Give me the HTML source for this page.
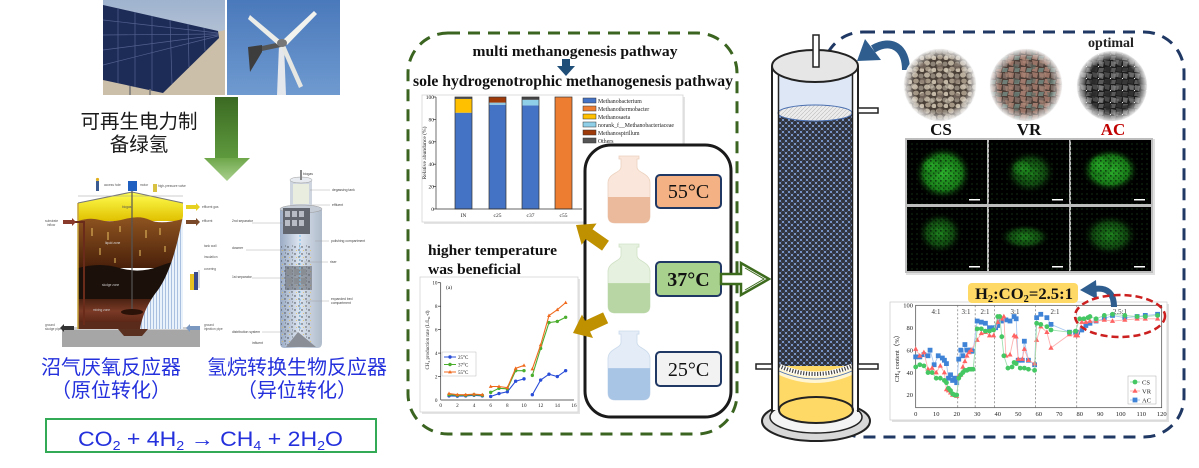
<!DOCTYPE html>
<html><head><meta charset="utf-8">
<style>
html,body{margin:0;padding:0;background:#fff;width:1199px;height:468px;overflow:hidden}
svg{display:block}
.s{font-family:"Liberation Serif",serif}
.sb{font-family:"Liberation Serif",serif;font-weight:bold}
.sa{font-family:"Liberation Sans",sans-serif}
.cn{font-family:"Liberation Sans","Noto Sans CJK SC",sans-serif}
</style></head><body>
<svg width="1199" height="468" viewBox="0 0 1199 468" xmlns="http://www.w3.org/2000/svg">
<defs>
<linearGradient id="skyA" x1="0" y1="0" x2="0" y2="1"><stop offset="0" stop-color="#9fb3cf"/><stop offset="1" stop-color="#d4d8dc"/></linearGradient>
<linearGradient id="skyB" x1="0" y1="0" x2="0" y2="1"><stop offset="0" stop-color="#4a79bb"/><stop offset="1" stop-color="#6f9ad0"/></linearGradient>
<linearGradient id="shaft" x1="0" y1="0" x2="0" y2="1"><stop offset="0" stop-color="#3b6a22"/><stop offset="1" stop-color="#5f9a3e"/></linearGradient>
<linearGradient id="ahead" x1="0" y1="0" x2="0" y2="1"><stop offset="0" stop-color="#6ea64a"/><stop offset="1" stop-color="#a9d18e"/></linearGradient>
<linearGradient id="gas" x1="0" y1="0" x2="0" y2="1"><stop offset="0" stop-color="#ffff50"/><stop offset="1" stop-color="#e0c000"/></linearGradient>
<linearGradient id="liq" x1="0" y1="0" x2="0" y2="1"><stop offset="0" stop-color="#8e5420"/><stop offset="1" stop-color="#4a200a"/></linearGradient>
<linearGradient id="mix" x1="0" y1="0" x2="0" y2="1"><stop offset="0" stop-color="#4a2212"/><stop offset="0.5" stop-color="#7a3a26"/><stop offset="1" stop-color="#5a2616"/></linearGradient>
<pattern id="stripe" width="3" height="4" patternUnits="userSpaceOnUse"><rect width="3" height="4" fill="#e9f1fb"/><rect width="1" height="4" fill="#a9c0e0"/></pattern>
<linearGradient id="col" x1="0" y1="0" x2="1" y2="0"><stop offset="0" stop-color="#9aabc4"/><stop offset="0.45" stop-color="#dbe3ef"/><stop offset="1" stop-color="#b0bccb"/></linearGradient>
<pattern id="dots" width="7" height="7" patternUnits="userSpaceOnUse"><circle cx="1" cy="2" r="0.7" fill="#222"/><circle cx="5" cy="5" r="0.7" fill="#333"/><circle cx="5.5" cy="1" r="0.5" fill="#444"/><circle cx="2.5" cy="5.5" r="0.5" fill="#e8c040"/></pattern>
<pattern id="bed" width="6" height="6" patternUnits="userSpaceOnUse"><rect width="6" height="6" fill="#7d9ad0"/><circle cx="0" cy="0" r="2.1" fill="#30343e"/><circle cx="6" cy="0" r="2.1" fill="#30343e"/><circle cx="0" cy="6" r="2.1" fill="#30343e"/><circle cx="6" cy="6" r="2.1" fill="#30343e"/><circle cx="3" cy="3" r="2.1" fill="#30343e"/></pattern>
<pattern id="hatch" width="4" height="4" patternUnits="userSpaceOnUse"><rect width="4" height="4" fill="#ececec"/><path d="M0,4 L4,0" stroke="#bbb" stroke-width="0.6"/></pattern>
<pattern id="pcs" width="12" height="12" patternUnits="userSpaceOnUse"><rect width="12" height="12" fill="#4a4038"/><ellipse cx="3" cy="3" rx="3" ry="2.6" fill="#b9ad9c"/><ellipse cx="9" cy="4" rx="2.6" ry="2.4" fill="#8e8477"/><ellipse cx="4" cy="9" rx="2.8" ry="2.4" fill="#a39684"/><ellipse cx="10" cy="10" rx="2.5" ry="2.2" fill="#c4b8a6"/></pattern>
<pattern id="pcs2" width="17" height="15" patternUnits="userSpaceOnUse"><ellipse cx="5" cy="6" rx="3.5" ry="3" fill="#7d7064" opacity="0.7"/><ellipse cx="13" cy="11" rx="3" ry="2.6" fill="#d0c6b6" opacity="0.6"/></pattern>
<pattern id="pvr" width="12" height="12" patternUnits="userSpaceOnUse"><rect width="12" height="12" fill="#4e3e38"/><polygon points="0,0 6,1 5,6 1,5" fill="#9a7466"/><polygon points="7,1 12,2 11,7 7,6" fill="#7c6a62"/><polygon points="1,7 6,7 5,12 0,11" fill="#a07a6c"/><polygon points="7,8 12,8 11,12 6,12" fill="#6f7e76"/></pattern>
<pattern id="pvr2" width="17" height="14" patternUnits="userSpaceOnUse"><polygon points="2,2 9,3 8,8 3,7" fill="#b08a7a" opacity="0.6"/><polygon points="10,8 16,9 15,13 11,13" fill="#5e6e68" opacity="0.6"/></pattern>
<pattern id="pac" width="12" height="12" patternUnits="userSpaceOnUse"><rect width="12" height="12" fill="#1c1c1c"/><polygon points="0,0 6,1 5,6 1,5" fill="#4a4a4a"/><polygon points="7,1 12,2 11,7 7,6" fill="#6a6a6a"/><polygon points="1,7 6,7 5,12 0,11" fill="#333"/><polygon points="7,8 12,8 11,12 6,12" fill="#5a5a5a"/><circle cx="6.5" cy="6.5" r="0.6" fill="#eee"/></pattern>
<pattern id="pac2" width="16" height="13" patternUnits="userSpaceOnUse"><polygon points="1,2 8,1 7,7 2,6" fill="#2a2a2a" opacity="0.7"/><polygon points="9,7 15,8 14,12 10,12" fill="#8a8a8a" opacity="0.5"/></pattern>
<radialGradient id="fade" cx="0.5" cy="0.5" r="0.5"><stop offset="0.72" stop-color="#fff" stop-opacity="0"/><stop offset="0.88" stop-color="#e8e8e8" stop-opacity="0.6"/><stop offset="1" stop-color="#fff" stop-opacity="1"/></radialGradient>
<radialGradient id="gB" cx="0.5" cy="0.5" r="0.5"><stop offset="0" stop-color="#2cb02c"/><stop offset="0.65" stop-color="#1a8a1a" stop-opacity="0.85"/><stop offset="1" stop-color="#000" stop-opacity="0"/></radialGradient>
<radialGradient id="gD" cx="0.5" cy="0.5" r="0.5"><stop offset="0" stop-color="#1c7e1c"/><stop offset="0.6" stop-color="#125212" stop-opacity="0.8"/><stop offset="1" stop-color="#000" stop-opacity="0"/></radialGradient>
<pattern id="speck" width="5" height="5" patternUnits="userSpaceOnUse"><rect x="0" y="0" width="1.6" height="1.6" fill="#000" opacity="0.55"/><rect x="3" y="2.5" width="1.4" height="1.4" fill="#000" opacity="0.45"/><rect x="1.5" y="3.5" width="1" height="1" fill="#6f6" opacity="0.35"/></pattern>

<marker id="mcs" markerUnits="userSpaceOnUse" markerWidth="10" markerHeight="10" refX="0" refY="0" overflow="visible"><g transform="scale(0.4878,-0.892)"><circle r="2.4" fill="#45c763"/></g></marker>
<marker id="mvr" markerUnits="userSpaceOnUse" markerWidth="10" markerHeight="10" refX="0" refY="0" overflow="visible"><g transform="scale(0.4878,-0.892)"><polygon points="0,-2.8 2.6,1.8 -2.6,1.8" fill="#ff6363"/></g></marker>
<marker id="mac" markerUnits="userSpaceOnUse" markerWidth="10" markerHeight="10" refX="0" refY="0" overflow="visible"><g transform="scale(0.4878,-0.892)"><rect x="-2.4" y="-2.4" width="4.8" height="4.8" fill="#3f83d6"/></g></marker>

<marker id="m25" markerUnits="userSpaceOnUse" markerWidth="10" markerHeight="10" refX="0" refY="0" overflow="visible"><g transform="scale(0.12005,-0.08525)"><circle r="1.7" fill="#2a4dd8"/></g></marker>
<marker id="m37" markerUnits="userSpaceOnUse" markerWidth="10" markerHeight="10" refX="0" refY="0" overflow="visible"><g transform="scale(0.12005,-0.08525)"><circle r="1.7" fill="#4cae2e"/></g></marker>
<marker id="m55" markerUnits="userSpaceOnUse" markerWidth="10" markerHeight="10" refX="0" refY="0" overflow="visible"><g transform="scale(0.12005,-0.08525)"><polygon points="0,-2 1.9,1.4 -1.9,1.4" fill="#f06a1e"/></g></marker>
</defs>

<rect width="1199" height="468" fill="#fff"/>

<!-- ============ LEFT COLUMN ============ -->
<rect x="103" y="0" width="122" height="95" fill="url(#skyA)"/>
<polygon points="103,62 225,30 225,95 103,95" fill="#cbbfa9"/>
<polygon points="103,5 218,31 219,38 163,93 103,80" fill="#1d2b57"/>
<g stroke="#52618f" stroke-width="0.7" fill="none">
<line x1="103" y1="20" x2="218" y2="33"/><line x1="103" y1="35" x2="218" y2="34"/><line x1="103" y1="50" x2="218" y2="35"/><line x1="103" y1="65" x2="218" y2="36"/>
<line x1="118" y1="8" x2="118" y2="83"/><line x1="135" y1="12" x2="135" y2="87"/><line x1="152" y1="16" x2="152" y2="90"/><line x1="170" y1="20" x2="172" y2="84"/><line x1="188" y1="24" x2="189" y2="67"/><line x1="204" y1="28" x2="205" y2="51"/>
</g>
<line x1="130" y1="86" x2="130" y2="95" stroke="#777" stroke-width="1.5"/>
<line x1="150" y1="89" x2="150" y2="95" stroke="#777" stroke-width="1.5"/>
<rect x="227" y="0" width="113" height="95" fill="url(#skyB)"/>
<polygon points="279,45 284,45 286,95 277,95" fill="#e4e7ec"/>
<polygon points="262,46 281,42 281,47 262,51" fill="#555"/>
<polygon points="248,47 262,45 262,52 250,72" fill="#3d3d3d"/>
<polygon points="283,40 314,11 317,14 287,45" fill="#f2f2ee"/>
<polygon points="281,41 250,15 248,19 279,46" fill="#ecece8"/>
<polygon points="284,43 303,86 299,88 280,45" fill="#e6e6e2"/>
<ellipse cx="282" cy="43" rx="5" ry="4" fill="#777"/>
<rect x="215" y="97" width="23" height="62" fill="url(#shaft)"/>
<polygon points="204,158 250,158 227,181" fill="url(#ahead)"/>
<text class="cn" x="139" y="128" font-size="19.5" fill="#1a1a1a" text-anchor="middle">可再生电力制</text>
<text class="cn" x="139" y="151" font-size="19.5" fill="#1a1a1a" text-anchor="middle">备绿氢</text>

<!-- left reactor -->
<rect x="62" y="329" width="138" height="18" fill="#a6a6a6"/>
<rect x="62" y="327" width="138" height="3" fill="#cfcfcf"/>
<path d="M118,329 L124,336 H142 L148,329 Z" fill="#5a3020"/>
<polygon points="78,203 132,192 183,203 183,221 78,221" fill="url(#gas)"/>
<path d="M78,221 Q90,217 100,220 T125,219 T150,220 T183,219 V268 H78 Z" fill="url(#liq)"/>
<path d="M78,268 Q100,262 120,268 T160,266 T183,265 V300 H78 Z" fill="#1c100a"/>
<rect x="78" y="299" width="105" height="24" fill="url(#mix)"/>
<rect x="78" y="322" width="105" height="7" fill="#5a2a1a"/>
<g stroke="#e8c060" stroke-width="1">
<line x1="92" y1="228" x2="92" y2="236"/><line x1="108" y1="232" x2="108" y2="240"/><line x1="120" y1="226" x2="120" y2="232"/><line x1="146" y1="230" x2="146" y2="238"/><line x1="160" y1="228" x2="160" y2="235"/><line x1="100" y1="248" x2="100" y2="255"/><line x1="140" y1="250" x2="140" y2="256"/><line x1="165" y1="246" x2="165" y2="252"/><line x1="115" y1="258" x2="115" y2="263"/>
</g>
<path d="M183,216 C178,240 172,270 158,290 C146,305 142,318 140,329 L183,329 Z" fill="url(#stripe)"/>
<line x1="78" y1="203" x2="78" y2="329" stroke="#c9a23a" stroke-width="1.5"/>
<polyline points="78,203 132,192 183,203" fill="none" stroke="#777" stroke-width="1"/>
<line x1="78" y1="196" x2="183" y2="196" stroke="#999" stroke-width="0.6"/>
<line x1="132" y1="190" x2="132" y2="312" stroke="#555" stroke-width="1.2"/>
<ellipse cx="132" cy="312" rx="11" ry="3" fill="#2a1208"/>
<rect x="128" y="181" width="9" height="10" fill="#1f5fbf"/>
<rect x="96" y="181" width="3" height="10" fill="#3a5a90"/><circle cx="97.5" cy="179.5" r="1.6" fill="#e0b020"/>
<rect x="153" y="184" width="4" height="8" fill="#d8c040"/>
<polyline points="73,222 84,222 84,325" fill="none" stroke="#6b2b1b" stroke-width="2"/>
<polygon points="63,220 72,220 72,218 76,222 72,226 72,224 63,224" fill="#8a3a2a"/>
<polygon points="186,205 196,205 196,203 200,207 196,211 196,209 186,209" fill="#e6d020"/>
<polygon points="186,220 196,220 196,218 200,222 196,226 196,224 186,224" fill="#7a4a2a"/>
<polygon points="74,326 64,326 64,324 60,328 64,332 64,330 74,330" fill="#333"/>
<polygon points="200,326 190,326 190,324 186,328 190,332 190,330 200,330" fill="#7a98c0"/>
<rect x="190" y="274" width="4" height="16" fill="#e8c020"/><rect x="194" y="272" width="4" height="18" fill="#3a4a8a"/><rect x="198" y="270" width="2" height="18" fill="#ddd"/>
<g class="sa" font-size="3.2" fill="#555">
<text x="104" y="186">access hole</text><text x="140" y="186">motor</text><text x="158" y="187">high-pressure valve</text>
<text x="122" y="208">biogas</text><text x="202" y="208">effluent gas</text>
<text x="45" y="222">substrate</text><text x="47" y="226">inflow</text><text x="202" y="222">effluent</text>
<text x="105" y="244" fill="#ddd">liquid zone</text><text x="102" y="286" fill="#ccc">sludge zone</text><text x="93" y="311" fill="#ccc">mixing zone</text>
<text x="204" y="247">tank wall</text><text x="204" y="258">insulation</text><text x="204" y="270">covering</text>
<text x="45" y="326">ground</text><text x="45" y="330">sludge pipe</text><text x="204" y="326">ground</text><text x="204" y="330">injection pipe</text>
</g>

<!-- right reactor -->
<rect x="290" y="180" width="22" height="28" fill="#cfd5de"/>
<rect x="293" y="184" width="16" height="20" fill="#eef2e0" opacity="0.8"/>
<ellipse cx="301" cy="180" rx="11" ry="3" fill="#e8ecf0" stroke="#999" stroke-width="0.5"/>
<line x1="301" y1="170" x2="301" y2="180" stroke="#888" stroke-width="2"/>
<path d="M280,210 H322 V343 Q322,348 317,348 H285 Q280,348 280,343 Z" fill="url(#col)"/>
<ellipse cx="301" cy="209" rx="21" ry="4" fill="#c5ccd6" stroke="#999" stroke-width="0.5"/>
<rect x="281" y="245" width="30" height="100" fill="url(#dots)" opacity="0.85"/>
<rect x="283" y="208" width="27" height="26" fill="#62666e"/>
<g fill="#b8bcc4"><rect x="285" y="211" width="5" height="6"/><rect x="292" y="211" width="5" height="6"/><rect x="299" y="211" width="5" height="6"/><rect x="285" y="220" width="5" height="6"/><rect x="292" y="220" width="5" height="6"/><rect x="299" y="220" width="5" height="6"/>
<rect x="287" y="269" width="5" height="6"/><rect x="294" y="269" width="5" height="6"/><rect x="301" y="269" width="5" height="6"/><rect x="287" y="278" width="5" height="6"/><rect x="294" y="278" width="5" height="6"/><rect x="301" y="278" width="5" height="6"/></g>
<rect x="285" y="266" width="27" height="24" fill="#62666e" opacity="0.55"/>
<line x1="300" y1="235" x2="300" y2="330" stroke="#6ec0f0" stroke-width="1" stroke-dasharray="2 2"/>
<path d="M298,332 L286,347 H316 Z" fill="#8a8e96"/>
<g stroke="#999" stroke-width="0.4">
<line x1="252" y1="223" x2="284" y2="223"/><line x1="246" y1="250" x2="290" y2="250"/><line x1="252" y1="278" x2="286" y2="278"/><line x1="262" y1="332" x2="297" y2="332"/>
<line x1="310" y1="190" x2="330" y2="190"/><line x1="312" y1="205" x2="330" y2="205"/><line x1="315" y1="241" x2="329" y2="241"/><line x1="304" y1="262" x2="328" y2="262"/><line x1="306" y1="301" x2="329" y2="301"/>
</g>
<g class="sa" font-size="3.4" fill="#444">
<text x="303" y="175">biogas</text><text x="332" y="191">degassing tank</text><text x="332" y="206">effluent</text>
<text x="232" y="222">2nd separator</text><text x="232" y="249">downer</text><text x="232" y="278">1st separator</text>
<text x="331" y="242">polishing compartment</text><text x="330" y="263">riser</text><text x="331" y="300">expanded bed</text><text x="331" y="304">compartment</text>
<text x="232" y="333">distribution system</text><text x="252" y="344">influent</text>
</g>

<text class="cn" x="111" y="374" font-size="20" fill="#2430dc" text-anchor="middle">沼气厌氧反应器</text>
<text class="cn" x="111" y="397" font-size="20" fill="#2430dc" text-anchor="middle">（原位转化）</text>
<text class="cn" x="297" y="374" font-size="20" fill="#2430dc" text-anchor="middle">氢烷转换生物反应器</text>
<text class="cn" x="297" y="397" font-size="20" fill="#2430dc" text-anchor="middle">（异位转化）</text>

<rect x="46" y="419" width="330" height="33" fill="#fff" stroke="#33aa55" stroke-width="2"/>
<text class="sa" x="78" y="446" font-size="21" fill="#2430dc" textLength="265" lengthAdjust="spacingAndGlyphs">CO<tspan font-size="13" dy="4">2</tspan><tspan dy="-4"> + 4H</tspan><tspan font-size="13" dy="4">2</tspan><tspan dy="-4"> → CH</tspan><tspan font-size="13" dy="4">4</tspan><tspan dy="-4"> + 2H</tspan><tspan font-size="13" dy="4">2</tspan><tspan dy="-4">O</tspan></text>

<!-- ============ MIDDLE ============ -->
<rect x="408" y="33" width="329" height="401" rx="40" fill="none" stroke="#3a6420" stroke-width="3" stroke-dasharray="12 8"/>
<text class="sb" x="575" y="56" font-size="15" text-anchor="middle" textLength="205" lengthAdjust="spacingAndGlyphs" fill="#111">multi methanogenesis pathway</text>
<polygon points="562,59 570,59 570,66 575,66 566,76 557,66 562,66" fill="#1f4e79"/>
<text class="sb" x="573" y="86" font-size="16" text-anchor="middle" textLength="320" lengthAdjust="spacingAndGlyphs" fill="#111">sole hydrogenotrophic methanogenesis pathway</text>

<rect x="424" y="97" width="261" height="127" fill="#e4e4e4"/>
<rect x="422" y="95" width="261" height="127" fill="#fff" stroke="#d4d4d4" stroke-width="0.8"/>
<rect x="455" y="112.7" width="17" height="96.3" fill="#4472c4"/>
<rect x="455" y="99" width="17" height="13.7" fill="#ffc000"/>
<rect x="455" y="97" width="17" height="2" fill="#555"/>
<rect x="489" y="104.8" width="17" height="104.2" fill="#4472c4"/>
<rect x="489" y="102.6" width="17" height="2.2" fill="#8fc7e0"/>
<rect x="489" y="97" width="17" height="5.6" fill="#9e3a0a"/>
<rect x="522" y="105.4" width="17" height="103.6" fill="#4472c4"/>
<rect x="522" y="99.8" width="17" height="5.6" fill="#8fd0e8"/>
<rect x="522" y="97" width="17" height="2.8" fill="#444"/>
<rect x="555" y="97" width="17" height="112" fill="#ed7d31"/>
<g stroke="#333" stroke-width="0.7" fill="none">
<rect x="455" y="97" width="17" height="112"/><rect x="489" y="97" width="17" height="112"/><rect x="522" y="97" width="17" height="112"/><rect x="555" y="97" width="17" height="112"/>
<line x1="436" y1="97" x2="436" y2="209"/><line x1="436" y1="209" x2="582" y2="209"/>
<line x1="433" y1="97" x2="436" y2="97"/><line x1="433" y1="119.4" x2="436" y2="119.4"/><line x1="433" y1="141.8" x2="436" y2="141.8"/><line x1="433" y1="164.2" x2="436" y2="164.2"/><line x1="433" y1="186.6" x2="436" y2="186.6"/><line x1="433" y1="209" x2="436" y2="209"/>
</g>
<g class="s" font-size="5.5" fill="#222" text-anchor="end">
<text x="434" y="99">100</text><text x="434" y="121.4">80</text><text x="434" y="143.8">60</text><text x="434" y="166.2">40</text><text x="434" y="188.6">20</text><text x="434" y="211">0</text>
</g>
<g class="s" font-size="5.5" fill="#222" text-anchor="middle">
<text x="463.5" y="217">IN</text><text x="497.5" y="217">c25</text><text x="530.5" y="217">c37</text><text x="563.5" y="217">c55</text>
</g>
<text class="s" font-size="5.5" fill="#222" text-anchor="middle" transform="translate(426,153) rotate(-90)">Relative abundance (%)</text>
<g stroke="#333" stroke-width="0.5">
<rect x="583" y="98" width="13" height="5" fill="#4472c4"/>
<rect x="583" y="106" width="13" height="5" fill="#ed7d31"/>
<rect x="583" y="114" width="13" height="5" fill="#ffc000"/>
<rect x="583" y="122" width="13" height="5" fill="#8fd0e8"/>
<rect x="583" y="130" width="13" height="5" fill="#9e3a0a"/>
<rect x="583" y="138" width="13" height="5" fill="#555"/>
</g>
<g class="s" font-size="5.8" fill="#222">
<text x="598" y="103">Methanobacterium</text><text x="598" y="111">Methanothermobacter</text><text x="598" y="119">Methanosaeta</text><text x="598" y="127">norank_f__Methanobacteriaceae</text><text x="598" y="135">Methanospirillum</text><text x="598" y="143">Others</text>
</g>

<text class="sb" x="428" y="255" font-size="15" fill="#111" textLength="129" lengthAdjust="spacingAndGlyphs">higher temperature</text>
<text class="sb" x="428" y="274" font-size="15" fill="#111" textLength="93" lengthAdjust="spacingAndGlyphs">was beneficial</text>

<rect x="422" y="279" width="158" height="135" fill="#e4e4e4"/>
<rect x="420" y="277" width="158" height="135" fill="#fff" stroke="#d4d4d4" stroke-width="0.8"/>
<g stroke="#333" stroke-width="0.7">
<line x1="440.7" y1="282.7" x2="440.7" y2="400"/><line x1="440.7" y1="400" x2="574" y2="400"/>
<line x1="438" y1="282.7" x2="440.7" y2="282.7"/><line x1="438" y1="306.2" x2="440.7" y2="306.2"/><line x1="438" y1="329.6" x2="440.7" y2="329.6"/><line x1="438" y1="353.1" x2="440.7" y2="353.1"/><line x1="438" y1="376.5" x2="440.7" y2="376.5"/>
</g>
<g class="s" font-size="5.2" fill="#222" text-anchor="end">
<text x="437.5" y="284.5">10</text><text x="437.5" y="308">8</text><text x="437.5" y="331.4">6</text><text x="437.5" y="354.9">4</text><text x="437.5" y="378.3">2</text><text x="437.5" y="401.8">0</text>
</g>
<g class="s" font-size="5.2" fill="#222" text-anchor="middle">
<text x="440.7" y="407">0</text><text x="457.4" y="407">2</text><text x="474" y="407">4</text><text x="490.7" y="407">6</text><text x="507.3" y="407">8</text><text x="524" y="407">10</text><text x="540.7" y="407">12</text><text x="557.3" y="407">14</text><text x="574" y="407">16</text>
</g>
<text class="s" x="446" y="289" font-size="5.5" fill="#222">(a)</text>
<text class="s" font-size="5" fill="#222" text-anchor="middle" transform="translate(429,340) rotate(-90)">CH<tspan font-size="3.5" dy="1">4</tspan><tspan dy="-1"> production rate (L/L</tspan><tspan font-size="3.5" dy="1">R</tspan><tspan dy="-1">·d)</tspan></text>
<g transform="translate(440.7,400) scale(8.33,-11.73)" fill="none" stroke-width="1.1">
<polyline vector-effect="non-scaling-stroke" stroke="#2a4dd8" points="1,0.35 2,0.33 3,0.35 4,0.4 5,0.35" marker-start="url(#m25)" marker-mid="url(#m25)" marker-end="url(#m25)"/>
<polyline vector-effect="non-scaling-stroke" stroke="#2a4dd8" points="6,0.3 7,0.55 8,0.7 9,1.6 10,1.8" marker-start="url(#m25)" marker-mid="url(#m25)" marker-end="url(#m25)"/>
<polyline vector-effect="non-scaling-stroke" stroke="#2a4dd8" points="11,0.45 12,1.7 13,2.2 14,2.0 15,2.5" marker-start="url(#m25)" marker-mid="url(#m25)" marker-end="url(#m25)"/>
<polyline vector-effect="non-scaling-stroke" stroke="#4cae2e" points="1,0.45 2,0.4 3,0.4 4,0.45 5,0.4" marker-start="url(#m37)" marker-mid="url(#m37)" marker-end="url(#m37)"/>
<polyline vector-effect="non-scaling-stroke" stroke="#4cae2e" points="6,0.65 7,1.0 8,0.95 9,2.5 10,2.5" marker-start="url(#m37)" marker-mid="url(#m37)" marker-end="url(#m37)"/>
<polyline vector-effect="non-scaling-stroke" stroke="#4cae2e" points="11,2.1 12,4.4 13,6.6 14,6.7 15,7.05" marker-start="url(#m37)" marker-mid="url(#m37)" marker-end="url(#m37)"/>
<polyline vector-effect="non-scaling-stroke" stroke="#f06a1e" points="1,0.55 2,0.45 3,0.45 4,0.5 5,0.45" marker-start="url(#m55)" marker-mid="url(#m55)" marker-end="url(#m55)"/>
<polyline vector-effect="non-scaling-stroke" stroke="#f06a1e" points="6,1.15 7,1.15 8,1.05 9,2.7 10,2.95" marker-start="url(#m55)" marker-mid="url(#m55)" marker-end="url(#m55)"/>
<polyline vector-effect="non-scaling-stroke" stroke="#f06a1e" points="11,2.65 12,4.7 13,7.2 14,7.7 15,8.3" marker-start="url(#m55)" marker-mid="url(#m55)" marker-end="url(#m55)"/>
</g>
<rect x="442" y="352" width="34" height="24" fill="#fff" stroke="#aaa" stroke-width="0.4"/>
<line x1="444" y1="357" x2="456" y2="357" stroke="#2a4dd8" stroke-width="1"/><circle cx="450" cy="357" r="1.7" fill="#2a4dd8"/>
<line x1="444" y1="364.5" x2="456" y2="364.5" stroke="#4cae2e" stroke-width="1"/><circle cx="450" cy="364.5" r="1.7" fill="#4cae2e"/>
<line x1="444" y1="372" x2="456" y2="372" stroke="#f06a1e" stroke-width="1"/><polygon points="450,370 451.9,373.4 448.1,373.4" fill="#f06a1e"/>
<g class="s" font-size="5" fill="#222"><text x="458" y="359">25°C</text><text x="458" y="366.5">37°C</text><text x="458" y="374">55°C</text></g>

<rect x="585" y="145" width="146" height="272" rx="26" fill="#fff" stroke="#1a1a1a" stroke-width="3"/>
<g transform="translate(608,156)">
<path d="M11,0 H31 V3 H29 V11 C29,17 42,17 42,27 V60 Q42,67 35,67 H7 Q0,67 0,60 V27 C0,17 13,17 13,11 V3 H11 Z" fill="#fae6da" stroke="#ecd2c0" stroke-width="0.8"/>
<path d="M0,41 H42 V60 Q42,67 35,67 H7 Q0,67 0,60 Z" fill="#ebba9c"/>
</g>
<g transform="translate(608,244) scale(1,1.03)">
<path d="M11,0 H31 V3 H29 V11 C29,17 42,17 42,27 V60 Q42,67 35,67 H7 Q0,67 0,60 V27 C0,17 13,17 13,11 V3 H11 Z" fill="#e6f1df" stroke="#d0e1c6" stroke-width="0.8"/>
<path d="M0,38 H42 V60 Q42,67 35,67 H7 Q0,67 0,60 Z" fill="#b7d6a3"/>
</g>
<g transform="translate(608,331) scale(1,1.03)">
<path d="M11,0 H31 V3 H29 V11 C29,17 42,17 42,27 V60 Q42,67 35,67 H7 Q0,67 0,60 V27 C0,17 13,17 13,11 V3 H11 Z" fill="#e3ecf7" stroke="#cbdaeb" stroke-width="0.8"/>
<path d="M0,36 H42 V60 Q42,67 35,67 H7 Q0,67 0,60 Z" fill="#a9c5e5"/>
</g>
<rect x="656" y="175" width="65" height="33" rx="4" fill="#f4b183" stroke="#203864" stroke-width="2"/>
<text class="s" x="688.5" y="198" font-size="20" text-anchor="middle" fill="#111">55°C</text>
<rect x="656" y="262" width="65" height="34" rx="4" fill="#a9d18e" stroke="#203864" stroke-width="2"/>
<text class="sb" x="688.5" y="286" font-size="20" text-anchor="middle" fill="#111">37°C</text>
<rect x="656" y="352" width="65" height="34" rx="4" fill="#f2f2f2" stroke="#203864" stroke-width="2"/>
<text class="s" x="688.5" y="376" font-size="20" text-anchor="middle" fill="#111">25°C</text>
<polygon transform="translate(576,225) rotate(35)" points="0,0 16,-13 16,-6 36,-6 36,6 16,6 16,13" fill="#bf9000"/>
<polygon transform="translate(573,333) rotate(-25)" points="0,0 16,-13 16,-6 36,-6 36,6 16,6 16,13" fill="#bf9000"/>
<polygon points="721,274 741,274 741,263 769,279 741,295 741,284 721,284" fill="#fff" stroke="#3d6b1e" stroke-width="2.5" stroke-linejoin="miter"/>
<polyline points="745,268 764,279 745,290" fill="none" stroke="#3d6b1e" stroke-width="1"/>

<!-- ============ RIGHT ============ -->
<rect x="823" y="32" width="361" height="405" rx="40" fill="none" stroke="#1f3864" stroke-width="3" stroke-dasharray="12 8"/>

<ellipse cx="816" cy="421" rx="54" ry="20" fill="#d8d8d8" stroke="#222" stroke-width="2"/>
<ellipse cx="816" cy="417" rx="46" ry="16" fill="#f4f4f4" stroke="#222" stroke-width="1.5"/>
<rect x="772" y="66" width="86" height="344" fill="#fff"/>
<rect x="778" y="66" width="74" height="48" fill="#dde7f6"/>
<rect x="779" y="113" width="73" height="254" fill="url(#bed)"/>
<ellipse cx="815" cy="113" rx="37" ry="8" fill="url(#hatch)" stroke="#4a6fb0" stroke-width="1"/>
<rect x="779" y="366" width="73" height="44" fill="#ffd966"/>
<path d="M779,368 Q815,384 852,368 L852,375 Q815,391 779,375 Z" fill="#fff5d0"/>
<path d="M779,366 Q815,382 852,366" fill="none" stroke="#fff" stroke-width="5"/>
<path d="M779,366 Q815,382 852,366" fill="none" stroke="#444" stroke-width="4" stroke-dasharray="1.2 1.6"/>
<path d="M779,371 Q815,387 852,371" fill="none" stroke="#4a6fb0" stroke-width="0.8"/>
<ellipse cx="816" cy="410" rx="37" ry="13" fill="#ffd966" stroke="#222" stroke-width="2"/>
<g stroke="#222" fill="none">
<line x1="772" y1="66" x2="772" y2="412" stroke-width="2"/>
<line x1="778.5" y1="66" x2="778.5" y2="410" stroke-width="1.5"/>
<line x1="852.5" y1="66" x2="852.5" y2="410" stroke-width="1.5"/>
<line x1="858" y1="66" x2="858" y2="412" stroke-width="2"/>
</g>
<ellipse cx="815" cy="66" rx="43" ry="16" fill="#e6e6e6" stroke="#222" stroke-width="2"/>
<rect x="813" y="35" width="6" height="32" fill="#fff" stroke="#222" stroke-width="1.5"/>
<rect x="858" y="108" width="20" height="5" fill="#fff" stroke="#222" stroke-width="1.5"/>
<rect x="756" y="364" width="16" height="5" fill="#fff" stroke="#222" stroke-width="1.5"/>
<rect x="858" y="364" width="20" height="5" fill="#fff" stroke="#222" stroke-width="1.5"/>

<path d="M906,70 C906,48 892,38 873,49" fill="none" stroke="#2e5d8e" stroke-width="8"/>
<polygon points="857,61 865,39 881,60" fill="#2e5d8e"/>

<!-- stones -->
<circle cx="940" cy="85" r="36" fill="url(#pcs)"/><circle cx="940" cy="85" r="36" fill="url(#pcs2)"/><circle cx="940" cy="85" r="37" fill="url(#fade)"/>
<circle cx="1026" cy="85" r="36" fill="url(#pvr)"/><circle cx="1026" cy="85" r="36" fill="url(#pvr2)"/><circle cx="1026" cy="85" r="37" fill="url(#fade)"/>
<circle cx="1112" cy="86" r="35" fill="url(#pac)"/><circle cx="1112" cy="86" r="35" fill="url(#pac2)"/><circle cx="1112" cy="86" r="36" fill="url(#fade)"/>
<text class="sb" x="1111" y="47" font-size="14" text-anchor="middle" fill="#222">optimal</text>
<text class="sb" x="941" y="135" font-size="17" text-anchor="middle" fill="#111">CS</text>
<text class="sb" x="1029" y="135" font-size="17" text-anchor="middle" fill="#111">VR</text>
<text class="sb" x="1113" y="135" font-size="17" text-anchor="middle" fill="#c00000">AC</text>

<!-- fluorescence -->
<rect x="906" y="139" width="249" height="136" fill="#e0e0e0"/>
<rect x="905" y="138" width="248" height="135" fill="#bdbdbd"/>
<rect x="907" y="140" width="80" height="64" fill="#000"/>
<rect x="989" y="140" width="80" height="64" fill="#000"/>
<rect x="1071" y="140" width="80" height="64" fill="#000"/>
<rect x="907" y="207" width="80" height="64" fill="#000"/>
<rect x="989" y="207" width="80" height="64" fill="#000"/>
<rect x="1071" y="207" width="80" height="64" fill="#000"/>
<ellipse cx="943" cy="173" rx="29" ry="27" fill="url(#gB)"/>
<ellipse cx="932" cy="166" rx="12" ry="10" fill="url(#gB)" opacity="0.7"/>
<ellipse cx="1030" cy="172" rx="26" ry="22" fill="url(#gD)"/>
<ellipse cx="1022" cy="168" rx="12" ry="10" fill="url(#gB)" opacity="0.5"/>
<ellipse cx="1110" cy="170" rx="29" ry="22" fill="url(#gB)"/>
<ellipse cx="1100" cy="165" rx="13" ry="12" fill="url(#gB)" opacity="0.7"/>
<ellipse cx="940" cy="233" rx="23" ry="21" fill="url(#gD)"/>
<ellipse cx="1025" cy="237" rx="26" ry="13" fill="url(#gD)"/>
<ellipse cx="1110" cy="235" rx="28" ry="21" fill="url(#gD)"/>
<g fill="url(#speck)"><rect x="907" y="140" width="244" height="64"/><rect x="907" y="207" width="244" height="64"/></g>
<g fill="#fff"><rect x="969" y="199" width="11" height="1.5"/><rect x="1052" y="199" width="11" height="1.5"/><rect x="1134" y="199" width="11" height="1.5"/><rect x="969" y="266" width="11" height="1.5"/><rect x="1052" y="266" width="11" height="1.5"/><rect x="1134" y="266" width="11" height="1.5"/></g>

<!-- CH4 chart -->
<rect x="892" y="304" width="277" height="118" fill="#e0e0e0"/>
<rect x="890" y="302" width="277" height="118" fill="#fff" stroke="#d0d0d0" stroke-width="0.8"/>
<rect x="915.7" y="305.3" width="246" height="102.4" fill="none" stroke="#444" stroke-width="0.7"/>
<g stroke="#888" stroke-width="0.8" stroke-dasharray="2 2">
<line x1="957.7" y1="305.3" x2="957.7" y2="407.7"/><line x1="975.2" y1="305.3" x2="975.2" y2="407.7"/><line x1="994.6" y1="305.3" x2="994.6" y2="407.7"/><line x1="1035.6" y1="305.3" x2="1035.6" y2="407.7"/><line x1="1076.7" y1="305.3" x2="1076.7" y2="407.7"/>
</g>
<g class="s" font-size="7" fill="#333" text-anchor="middle">
<text x="936" y="314">4:1</text><text x="966" y="314">3:1</text><text x="985" y="314">2:1</text><text x="1015" y="314">3:1</text><text x="1055" y="314">2:1</text><text x="1120" y="314">2.5:1</text>
</g>
<g class="s" font-size="6.5" fill="#222" text-anchor="end">
<text x="913" y="307.5">100</text><text x="913" y="330">80</text><text x="913" y="352.4">60</text><text x="913" y="374.8">40</text><text x="913" y="397.2">20</text>
</g>
<g class="s" font-size="6.5" fill="#222" text-anchor="middle">
<text x="915.7" y="416">0</text><text x="936.2" y="416">10</text><text x="956.7" y="416">20</text><text x="977.2" y="416">30</text><text x="997.7" y="416">40</text><text x="1018.2" y="416">50</text><text x="1038.7" y="416">60</text><text x="1059.2" y="416">70</text><text x="1079.7" y="416">80</text><text x="1100.2" y="416">90</text><text x="1120.7" y="416">100</text><text x="1141.2" y="416">110</text><text x="1161.7" y="416">120</text>
</g>
<text class="s" font-size="6.5" fill="#222" text-anchor="middle" transform="translate(899,357) rotate(-90)">CH<tspan font-size="4.5" dy="1.5">4</tspan><tspan dy="-1.5"> content（%）</tspan></text>
<g transform="translate(915.7,395) scale(2.05,-1.121) translate(0,-20)" fill="none">
<polyline vector-effect="non-scaling-stroke" stroke="#a9c8f0" stroke-width="0.9" marker-start="url(#mac)" marker-mid="url(#mac)" marker-end="url(#mac)" points="0,54 2,54 4,56 6,55 7,60 9,47 11,55 13,53 14,51 15,48 16,35 17,38 18,33 19,35 20,31 21,52 22,60 23,55 24,65 25,60 26,60 27,60 28,59 30,86 32,85 34,84 36,80 38,80 39,80 40,82 41,88 42,86 44,87 46,86 48,90 49,88 50,51 52,51 53,68 55,51 58,47 59,89 61,92 64,89 66,83 75,76 78,76 79,76 81,78 83,82 85,84 88,86 92,88 96,91 102,89 108,90 112,91 118,92"/>
<polyline vector-effect="non-scaling-stroke" stroke="#ffb0b0" stroke-width="0.9" marker-start="url(#mvr)" marker-mid="url(#mvr)" marker-end="url(#mvr)" points="0,61 2,55 4,58 6,43 8,44 10,40 12,46 14,40 15,25 16,24 17,22 18,20 19,20 20,19 21,37 22,38 23,45 24,50 25,55 26,58 27,60 30,69 32,75 34,76 36,73 38,73 40,85 41,90 42,88 43,90 44,55 46,56 48,73 49,72 50,52 52,52 53,61 55,51 58,48 59,69 61,81 64,76 66,62 75,74 78,73 79,73 81,85 83,85 85,86 88,86 92,87 96,86 102,87 108,88 112,88 118,88"/>
<polyline vector-effect="non-scaling-stroke" stroke="#9fe0b0" stroke-width="0.9" marker-start="url(#mcs)" marker-mid="url(#mcs)" marker-end="url(#mcs)" points="0,45 2,47 4,46 6,40 8,40 10,35 12,35 14,33 15,31 16,26 17,24 18,21 19,20 20,20 21,35 22,38 23,40 24,42 25,42 26,43 27,43 28,43 30,79 32,79 34,77 36,77 38,78 40,90 41,90 42,72 43,55 45,44 47,45 48,49 49,48 51,44 53,44 55,43 58,42 59,84 61,83 64,81 66,78 75,76 78,77 80,88 82,88 84,89 85,90 88,88 92,91 96,92 102,91 108,90 112,90 118,91"/>
</g>
<rect x="1128" y="376" width="28" height="28" fill="#fff" stroke="#aaa" stroke-width="0.5"/>
<line x1="1130" y1="382" x2="1140" y2="382" stroke="#9fe0b0"/><circle cx="1135" cy="382" r="2.4" fill="#45c763"/>
<line x1="1130" y1="391" x2="1140" y2="391" stroke="#ffb0b0"/><polygon points="1135,388.2 1137.6,392.8 1132.4,392.8" fill="#ff6363"/>
<line x1="1130" y1="400" x2="1140" y2="400" stroke="#a9c8f0"/><rect x="1132.6" y="397.6" width="4.8" height="4.8" fill="#3f83d6"/>
<g class="s" font-size="6.5" fill="#222"><text x="1142" y="384.5">CS</text><text x="1142" y="393.5">VR</text><text x="1142" y="402.5">AC</text></g>

<rect x="968" y="283" width="110" height="20" rx="4" fill="#ffd966"/>
<text class="sb" x="975" y="299" font-size="16" fill="#111" textLength="98" lengthAdjust="spacingAndGlyphs">H<tspan font-size="10" dy="3">2</tspan><tspan dy="-3">:CO</tspan><tspan font-size="10" dy="3">2</tspan><tspan dy="-3">=2.5:1</tspan></text>
<path d="M1114,307 C1114,293 1107,287 1094,289" fill="none" stroke="#2e5d8e" stroke-width="6"/>
<polygon points="1080,290 1096,280 1097,299" fill="#2e5d8e"/>
<ellipse cx="1120" cy="316" rx="45" ry="21" fill="none" stroke="#cc1f1f" stroke-width="2.5" stroke-dasharray="7 4"/>
</svg>
</body></html>
